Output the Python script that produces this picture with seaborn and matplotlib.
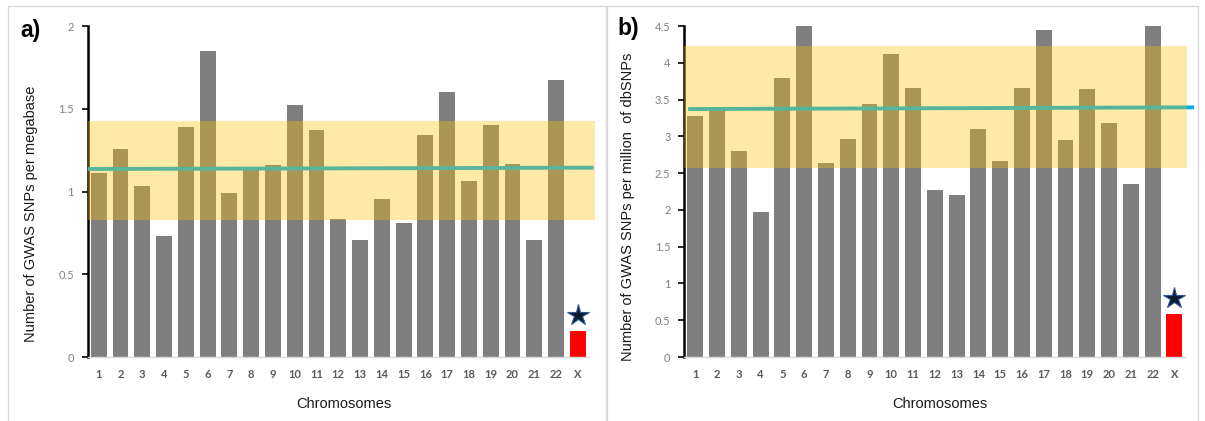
import matplotlib
matplotlib.use("Agg")
import matplotlib.pyplot as plt
import seaborn as sns
import pandas as pd
from matplotlib.patches import Rectangle

# ---------------- data ----------------
chromosomes = [str(i) for i in range(1, 23)] + ["X"]
snps_per_mb = [1.11, 1.255, 1.033, 0.729, 1.39, 1.849, 0.989, 1.13, 1.16, 1.524,
               1.372, 0.834, 0.707, 0.953, 0.808, 1.341, 1.599, 1.062, 1.402, 1.166,
               0.707, 1.672, 0.159]
snps_per_million = [3.276, 3.38, 2.796, 1.967, 3.797, 4.5, 2.637, 2.964, 3.435, 4.115,
                    3.653, 2.266, 2.207, 3.10, 2.664, 3.653, 4.45, 2.955, 3.65, 3.186,
                    2.348, 4.5, 0.589]
# mean line (start, end) and +/- band (low, high)
mean_a = [1.136, 1.144]
band_a = [0.828, 1.428]
mean_b = [3.371, 3.394]
band_b = [2.574, 4.232]
star_a = 0.254
star_b = 0.80

ylabels = ["Number of GWAS SNPs per megabase",
           "Number of GWAS SNPs per million  of dbSNPs"]
panel_tags = ["a)", "b)"]
yticks_a = [0, 0.5, 1, 1.5, 2]
yticks_b = [0, 0.5, 1, 1.5, 2, 2.5, 3, 3.5, 4, 4.5]

# ---------------- style ----------------
sns.set_theme(style="white")
plt.rcParams["font.family"] = ["Liberation Sans", "DejaVu Sans"]

W, H = 1205, 421
fig = plt.figure(figsize=(W / 100, H / 100), dpi=100)

GRAY = "#7f7f7f"
RED = "#ff0000"
CYAN = "#00b0f0"
BAND = "#ffc000"
palette = [GRAY] * 22 + [RED]

def px(x0, y0, w, h):
    return [x0 / W, 1 - (y0 + h) / H, w / W, h / H]

axes_px = [(87.8, 26, 511.8, 331), (684.4, 26, 511.8, 331)]
datasets = [snps_per_mb, snps_per_million]
means = [mean_a, mean_b]
bands = [band_a, band_b]
stars = [star_a, star_b]
yticks_all = [yticks_a, yticks_b]
band_right = [22.77, 22.57]
line_x = [[-0.5, 22.73], [-0.33, 22.9]]
tag_pos = [(20, 31), (617, 29)]
ylabel_x = [30.6, 628]
ylabel_y = [214, 207]

# panel frames
for (l, r) in [(8, 606), (607, 1198)]:
    fig.add_artist(Rectangle((l / W, -0.1), (r - l) / W, 1.1 - 6 / H,
                             transform=fig.transFigure, fill=False,
                             edgecolor="#d9d9d9", linewidth=1.0))

for i in range(2):
    ax = fig.add_axes(px(*axes_px[i]))
    df = pd.DataFrame({"chrom": chromosomes, "value": datasets[i]})
    sns.barplot(data=df, x="chrom", y="value", hue="chrom", palette=palette,
                order=chromosomes, hue_order=chromosomes, legend=False,
                width=0.73, linewidth=0, saturation=1, ax=ax, zorder=2)
    ymax = yticks_all[i][-1]
    ax.set_ylim(0, ymax)
    ax.set_xlim(-0.5, 23.0)

    # mean line (under band)
    ax.plot(line_x[i], means[i], color=CYAN, lw=2.8, zorder=3,
            solid_capstyle="butt", clip_on=False)
    # band
    ax.add_patch(Rectangle((-0.5, bands[i][0]), band_right[i] + 0.5,
                           bands[i][1] - bands[i][0], facecolor=BAND,
                           alpha=0.35, edgecolor="none", zorder=4))
    # star on X
    ax.plot([22], [stars[i]], marker="*", ms=16, color="#0d1a2e",
            markeredgecolor="#2f5597", markeredgewidth=0.8, zorder=5,
            clip_on=False)

    # spines
    for s in ["top", "right"]:
        ax.spines[s].set_visible(False)
    ax.spines["left"].set_color("black")
    ax.spines["left"].set_linewidth(1.8)
    ax.spines["left"].set_bounds(0, ymax)
    ax.spines["bottom"].set_color("#d9d9d9")
    ax.spines["bottom"].set_linewidth(1.0)
    ax.spines["bottom"].set_bounds(-0.5, 22.5)

    ax.set_yticks(yticks_all[i])
    ax.set_yticklabels([("%g" % v) for v in yticks_all[i]],
                       fontfamily="Lato", fontsize=8, color="#808080")
    ax.tick_params(axis="y", direction="out", length=4, width=1.2,
                   color="black", pad=6, left=True)
    ax.tick_params(axis="x", length=0, pad=9)
    for lab in ax.get_xticklabels():
        lab.set_fontfamily("Lato")
        lab.set_fontweight("bold")
        lab.set_fontsize(8)
        lab.set_color("#595959")

    ax.set_xlabel("Chromosomes", fontsize=10.5, color="#1a1a1a")
    ax.xaxis.set_label_coords(0.5, 1 - (404 - 26) / 331, transform=ax.transAxes)
    ax.xaxis.label.set_verticalalignment("center")
    ax.set_ylabel(ylabels[i], fontsize=10.5, color="#1a1a1a")
    ax.yaxis.set_label_coords((ylabel_x[i] - axes_px[i][0]) / axes_px[i][2],
                              1 - (ylabel_y[i] - 26) / 331)
    ax.yaxis.label.set_verticalalignment("center")

    fig.text(tag_pos[i][0] / W, 1 - tag_pos[i][1] / H, panel_tags[i],
             fontsize=16.5, fontweight="bold", va="center", ha="left",
             color="black")

fig.savefig("out.png", dpi=100)
